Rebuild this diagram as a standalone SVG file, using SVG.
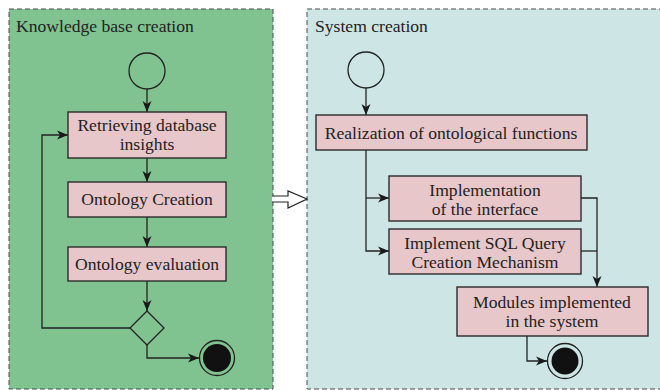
<svg xmlns="http://www.w3.org/2000/svg" width="660" height="390" viewBox="0 0 660 390">
<defs>
<marker id="ah" markerWidth="12" markerHeight="10" refX="11" refY="5" orient="auto" markerUnits="userSpaceOnUse">
<path d="M0,0.5 L11,5 L0,9.5 L3,5 Z" fill="#1a1a1a"/>
</marker>
</defs>
<style>
.panel{stroke:#4a4a4a;stroke-width:1;stroke-dasharray:5 3}
.box{fill:#e8c7ca;stroke:#2b2b2b;stroke-width:1.4}
.t{font-family:"Liberation Serif","Times New Roman",serif;font-size:17.6px;fill:#222}
.c{text-anchor:middle}
.ln{fill:none;stroke:#222;stroke-width:1.3}
.start{fill:none;stroke:#222;stroke-width:1.3}
.endo{fill:none;stroke:#222;stroke-width:1.3}
.endi{fill:#111}
</style>
<g id="panel-knowledge">
<rect class="panel" x="9" y="9" width="264" height="380" fill="#80c391"/>
<text class="t" x="16" y="32">Knowledge base creation</text>
</g>
<g id="panel-system">
<rect class="panel" x="307" y="9" width="360" height="380" fill="#cee5e5"/>
<text class="t" x="315" y="32">System creation</text>
</g>
<g id="connectors">
<path class="ln" d="M147,89 V112" marker-end="url(#ah)"/>
<path class="ln" d="M147,158 V182" marker-end="url(#ah)"/>
<path class="ln" d="M147,217 V247" marker-end="url(#ah)"/>
<path class="ln" d="M147,281 V311" marker-end="url(#ah)"/>
<path class="ln" d="M130,328 H42 V135 H68" marker-end="url(#ah)"/>
<path class="ln" d="M147,345 V358 H199" marker-end="url(#ah)"/>
<path d="M272,196 H288 V191 L307,199 L288,208 V202 H272" fill="#fff" stroke="#222" stroke-width="1.2"/>
<path class="ln" d="M366,88 V115" marker-end="url(#ah)"/>
<path class="ln" d="M366,150 V251 H389" marker-end="url(#ah)"/>
<path class="ln" d="M366,198 H389" marker-end="url(#ah)"/>
<path class="ln" d="M581,198 H597 V287" marker-end="url(#ah)"/>
<path class="ln" d="M581,251 H597"/>
<path class="ln" d="M527,336 V361 H547" marker-end="url(#ah)"/>
</g>
<g id="start1"><circle class="start" cx="147" cy="71" r="18"/></g>
<g id="n-retrieving">
<rect class="box" x="68" y="112" width="158" height="46"/>
<text class="t c" x="147" y="131">Retrieving database</text>
<text class="t c" x="147" y="150">insights</text>
</g>
<g id="n-ontology-creation">
<rect class="box" x="68" y="182" width="158" height="35"/>
<text class="t c" x="147" y="205">Ontology Creation</text>
</g>
<g id="n-ontology-eval">
<rect class="box" x="68" y="247" width="158" height="34"/>
<text class="t c" x="147" y="270">Ontology evaluation</text>
</g>
<g id="decision"><path d="M147,311 L164,328 L147,345 L130,328 Z" fill="none" stroke="#222" stroke-width="1.3"/></g>
<g id="end1">
<circle class="endo" cx="217" cy="358" r="17.5"/>
<circle class="endi" cx="217" cy="358" r="14"/>
</g>
<g id="start2"><circle class="start" cx="366" cy="70" r="18"/></g>
<g id="n-realization">
<rect class="box" x="316" y="115" width="271" height="35"/>
<text class="t c" x="451" y="139">Realization of ontological functions</text>
</g>
<g id="n-interface">
<rect class="box" x="389" y="176" width="192" height="45"/>
<text class="t c" x="485" y="196">Implementation</text>
<text class="t c" x="485" y="215">of the interface</text>
</g>
<g id="n-sql">
<rect class="box" x="389" y="229" width="192" height="45"/>
<text class="t c" x="485" y="249">Implement SQL Query</text>
<text class="t c" x="485" y="268">Creation Mechanism</text>
</g>
<g id="n-modules">
<rect class="box" x="457" y="287" width="191" height="49"/>
<text class="t c" x="552" y="308">Modules implemented</text>
<text class="t c" x="552" y="327">in the system</text>
</g>
<g id="end2">
<circle class="endo" cx="565" cy="361" r="17.5"/>
<circle class="endi" cx="565" cy="361" r="13.5"/>
</g>
</svg>
